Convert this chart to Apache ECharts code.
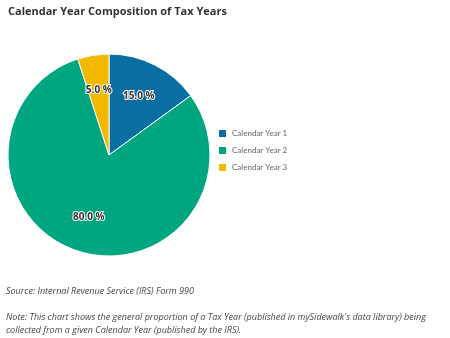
<!DOCTYPE html>
<html><head><meta charset="utf-8">
<script src="https://cdn.jsdelivr.net/npm/echarts@6/dist/echarts.min.js"></script>
<style>html,body{margin:0;padding:0;background:#fff}#c{width:450px;height:338px}</style>
</head><body><div id="c"></div>
<script>
const categories = ['Calendar Year 1', 'Calendar Year 2', 'Calendar Year 3'];
const values = [15, 80, 5];
const colors = ['#0a6ea0', '#00a67f', '#f5b800'];
const title = 'Calendar Year Composition of Tax Years';
const source = 'Source: Internal Revenue Service (IRS) Form 990';
const note1 = "Note: This chart shows the general proportion of a Tax Year (published in mySidewalk's data library) being";
const note2 = 'collected from a given Calendar Year (published by the IRS).';

const data = categories.map((n, i) => ({ name: n, value: values[i], itemStyle: { color: colors[i] } }));
const chart = echarts.init(document.getElementById('c'), null, { renderer: 'canvas' });
chart.setOption({
  animation: false,
  title: { text: title, left: 3, top: 1, textStyle: { fontSize: 11, fontWeight: 'bold', color: '#333', fontFamily: '"Open Sans", sans-serif' } },
  legend: {
    orient: 'vertical', left: 212, top: 123, itemWidth: 9, itemHeight: 9, itemGap: 6,
    icon: 'rect', data: categories,
    textStyle: { fontSize: 8, color: '#666', fontFamily: 'Lato, sans-serif' }
  },
  graphic: [
    { type: 'text', left: 6, top: 287, style: { text: source, font: 'italic 9px "Open Sans", sans-serif', fill: '#444' } },
    { type: 'text', left: 6, top: 313, style: { text: note1, font: 'italic 9px "Open Sans", sans-serif', fill: '#444' } },
    { type: 'text', left: 6, top: 326, style: { text: note2, font: 'italic 9px "Open Sans", sans-serif', fill: '#444' } }
  ],
  series: [
    {
      type: 'pie', center: [109, 155], radius: [0, 101], startAngle: 90, clockwise: true,
      data: data, label: { show: false }, labelLine: { show: false },
      itemStyle: { borderColor: '#fff', borderWidth: 1 }, emphasis: { disabled: true }
    },
    {
      type: 'pie', center: [109, 155], radius: [24, 101], startAngle: 90, clockwise: true, silent: true,
      data: categories.map((n, i) => ({ name: n, value: values[i] })),
      itemStyle: { color: 'rgba(0,0,0,0)' },
      label: {
        show: true, position: 'inside', formatter: p => p.value.toFixed(1) + ' %',
        fontSize: 10, fontWeight: 'bold', color: '#333', textBorderColor: '#fff', textBorderWidth: 2,
        fontFamily: '"Open Sans", sans-serif'
      },
      labelLine: { show: false }, emphasis: { disabled: true }
    }
  ]
});
</script></body></html>
